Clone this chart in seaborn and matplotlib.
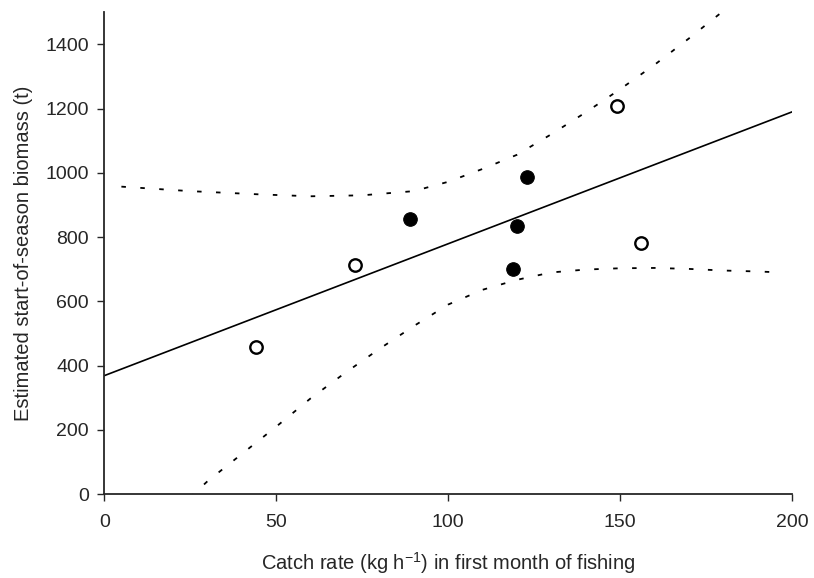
import numpy as np
import pandas as pd
import matplotlib
matplotlib.use("Agg")
import matplotlib.pyplot as plt
import seaborn as sns

# puntos observados (abiertos y rellenos)
open_x = [44, 73, 149, 156]
open_y = [458, 712, 1207, 781]
filled_x = [89, 119, 120, 123]
filled_y = [855, 700, 834, 986]

# bandas punteadas
upper_x = [5, 25, 45, 60, 75, 90, 100, 110, 120, 130, 140, 150, 160, 170, 181]
upper_y = [957, 943, 933, 927, 930, 943, 972, 1012, 1056, 1120, 1188, 1260, 1336, 1418, 1512]
lower_x = [25, 30, 40, 50, 60, 70, 80, 90, 100, 110, 120, 130, 140, 150, 160, 170, 180, 190, 197]
lower_y = [-10, 40, 125, 210, 298, 377, 452, 523, 590, 636, 667, 690, 699, 703, 704, 701, 696, 693, 690]

x_ticks = [0, 50, 100, 150, 200]
y_ticks = [0, 200, 400, 600, 800, 1000, 1200, 1400]

sns.set_style("ticks")
plt.rcParams['font.family'] = ['Liberation Sans', 'DejaVu Sans']
plt.rcParams['mathtext.fontset'] = 'custom'
plt.rcParams['mathtext.rm'] = 'Liberation Sans'
plt.rcParams['mathtext.it'] = 'Liberation Sans'

fig = plt.figure(figsize=(8.14, 5.78), dpi=100)
ax = fig.add_axes([0.128, 0.145, 0.845, 0.834])

# recta de regresion ajustada a todos los puntos
all_x = np.array(open_x + filled_x)
all_y = np.array(open_y + filled_y)
slope, intercept = np.polyfit(all_x, all_y, 1)
fit = pd.DataFrame({'x': [0, 200]})
fit['y'] = intercept + slope * fit['x']
sns.lineplot(data=fit, x='x', y='y', ax=ax, color='black', linewidth=1.2)

# bandas
sns.lineplot(x=upper_x, y=upper_y, ax=ax, color='black', linewidth=1.3,
             linestyle=(0, (2.5, 8)))
sns.lineplot(x=lower_x, y=lower_y, ax=ax, color='black', linewidth=1.3,
             linestyle=(0, (2.5, 8)))

sns.scatterplot(x=open_x, y=open_y, ax=ax, s=80, facecolor='white',
                edgecolor='black', linewidth=1.7, zorder=5)
sns.scatterplot(x=filled_x, y=filled_y, ax=ax, s=95, color='black',
                edgecolor='black', zorder=5)

ax.set_xlim(0, 200)
ax.set_ylim(0, 1500)
ax.set_xticks(x_ticks)
ax.set_yticks(y_ticks)
ax.tick_params(labelsize=14, length=5, width=1, direction='out')
ax.tick_params(axis='x', pad=9)
ax.tick_params(axis='y', pad=6)
ax.set_xlabel('Catch rate (kg h$^{\\mathrm{-1}}$) in first month of fishing', fontsize=14.5, labelpad=14)
ax.set_ylabel('Estimated start-of-season biomass (t)', fontsize=14.5, labelpad=9)
for s in ['left', 'bottom']:
    ax.spines[s].set_linewidth(1.3)
sns.despine(ax=ax)

fig.savefig('out.png', dpi=100)
